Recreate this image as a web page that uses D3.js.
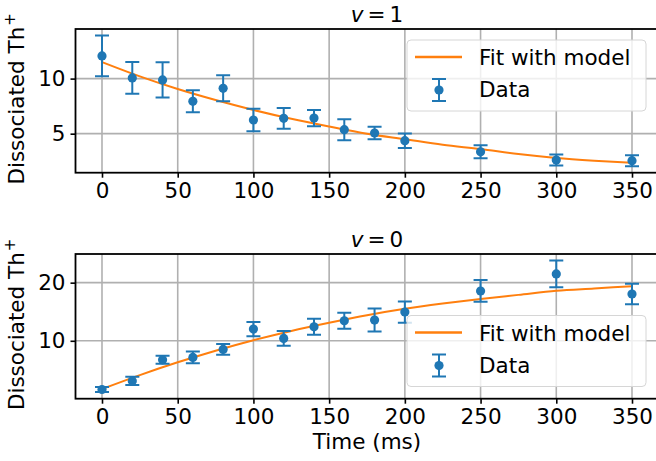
<!DOCTYPE html>
<html>
<head>
<meta charset="utf-8">
<script src="https://cdn.jsdelivr.net/npm/d3@7"></script>
<style>
  body { margin: 0; background: #fff; }
  text { font-family: "DejaVu Sans", sans-serif; fill: #000; }
</style>
</head>
<body>
<div id="svgdiv"></div>
<script>
// Step 1: data
var times = [0, 20, 40, 60, 80, 100, 120, 140, 160, 180, 200, 250, 300, 350];

// v = 1 measurements
var v1Values = [12.06, 10.06, 9.88, 7.94, 9.12, 6.24, 6.39, 6.42, 5.36, 5.06, 4.36, 3.36, 2.60, 2.55];
var v1Errors = [1.85, 1.44, 1.60, 1.00, 1.18, 1.03, 0.94, 0.74, 0.95, 0.56, 0.65, 0.60, 0.50, 0.50];

// v = 0 measurements
var v0Values = [1.62, 3.10, 6.72, 7.14, 8.52, 12.02, 10.41, 12.41, 13.45, 13.57, 14.95, 18.57, 21.50, 18.05];
var v0Errors = [0.45, 0.70, 0.69, 1.00, 0.92, 1.23, 1.26, 1.38, 1.38, 1.98, 1.83, 1.87, 2.30, 1.78];

// model curves
var fitTimes = [0, 25, 50, 75, 100, 125, 150, 175, 200, 225, 250, 275, 300, 325, 350];
var v1Fit = [11.5, 10.2, 9.05, 8.05, 7.15, 6.35, 5.65, 5.0, 4.5, 4.0, 3.6, 3.15, 2.8, 2.55, 2.35];
var v0Fit = [1.7, 4.1, 6.3, 8.3, 10.1, 11.7, 13.1, 14.4, 15.5, 16.4, 17.2, 17.9, 18.6, 19.0, 19.4];

var xTicks = [0, 50, 100, 150, 200, 250, 300, 350];
var v1Ticks = [5, 10];
var v0Ticks = [10, 20];

// Step 2: svg
var svgWidth = 656;
var svgHeight = 461;
var fontSize = 21.5;
var blue = "#1f77b4";
var orange = "#ff7f0e";

var svg = d3.select("#svgdiv")
    .append("svg")
    .attr("width", svgWidth)
    .attr("height", svgHeight);

var xScale = d3.scaleLinear()
    .domain([-17.5, 367.5])
    .range([75.5, 658.5]);

// matplotlib style 5% margins around the data
function yDomain(values, errors, fit) {
    var lo = d3.min([d3.min(values, (d, i) => d - errors[i]), d3.min(fit)]);
    var hi = d3.max([d3.max(values, (d, i) => d + errors[i]), d3.max(fit)]);
    var m = (hi - lo) * 0.05;
    return [lo - m, hi + m];
}

function drawPanel(opts) {
    var top = opts.top, bottom = opts.bottom;
    var yScale = d3.scaleLinear()
        .domain(yDomain(opts.values, opts.errors, opts.fit))
        .range([bottom, top]);

    var g = svg.append("g");

    var clipId = "clip" + opts.id;
    svg.append("clipPath").attr("id", clipId)
        .append("rect")
        .attr("x", xScale.range()[0])
        .attr("y", top)
        .attr("width", xScale.range()[1] - xScale.range()[0])
        .attr("height", bottom - top);

    // grid
    g.append("g").selectAll("line")
        .data(xTicks)
        .enter()
        .append("line")
            .attr("x1", d => xScale(d)).attr("x2", d => xScale(d))
            .attr("y1", top).attr("y2", bottom)
            .attr("stroke", "#b0b0b0")
            .attr("stroke-width", 1.6);
    g.append("g").selectAll("line")
        .data(opts.ticks)
        .enter()
        .append("line")
            .attr("x1", xScale.range()[0]).attr("x2", xScale.range()[1])
            .attr("y1", d => yScale(d)).attr("y2", d => yScale(d))
            .attr("stroke", "#b0b0b0")
            .attr("stroke-width", 1.6);

    // axes
    var bottomAxis = d3.axisBottom(xScale).tickValues(xTicks).tickSize(5).tickPadding(5);
    var leftAxis = d3.axisLeft(yScale).tickValues(opts.ticks).tickSize(5).tickPadding(5);

    var xAxis = g.append("g")
        .attr("transform", `translate(0, ${bottom})`)
        .call(bottomAxis);
    var yAxis = g.append("g")
        .attr("transform", `translate(${xScale.range()[0]}, 0)`)
        .call(leftAxis);
    [xAxis, yAxis].forEach(function(ax) {
        ax.select(".domain").remove();
        ax.selectAll("line").attr("stroke", "#000").attr("stroke-width", 1.6);
        ax.selectAll("text")
            .attr("font-size", fontSize + "px")
            .attr("font-family", "DejaVu Sans");
    });

    // fit line
    var plot = g.append("g").attr("clip-path", `url(#${clipId})`);
    var line = d3.line()
        .x((d, i) => xScale(fitTimes[i]))
        .y(d => yScale(d))
        .curve(d3.curveMonotoneX);
    plot.append("path")
        .attr("d", line(opts.fit))
        .attr("fill", "none")
        .attr("stroke", orange)
        .attr("stroke-width", 2);

    // error bars
    var bars = plot.append("g").selectAll("g")
        .data(opts.values)
        .enter()
        .append("g")
            .attr("stroke", blue)
            .attr("stroke-width", 2);
    bars.append("line")
        .attr("x1", (d, i) => xScale(times[i])).attr("x2", (d, i) => xScale(times[i]))
        .attr("y1", (d, i) => yScale(d - opts.errors[i]))
        .attr("y2", (d, i) => yScale(d + opts.errors[i]));
    bars.append("line")
        .attr("x1", (d, i) => xScale(times[i]) - 7).attr("x2", (d, i) => xScale(times[i]) + 7)
        .attr("y1", (d, i) => yScale(d - opts.errors[i]))
        .attr("y2", (d, i) => yScale(d - opts.errors[i]));
    bars.append("line")
        .attr("x1", (d, i) => xScale(times[i]) - 7).attr("x2", (d, i) => xScale(times[i]) + 7)
        .attr("y1", (d, i) => yScale(d + opts.errors[i]))
        .attr("y2", (d, i) => yScale(d + opts.errors[i]));
    plot.append("g").selectAll("circle")
        .data(opts.values)
        .enter()
        .append("circle")
            .attr("cx", (d, i) => xScale(times[i]))
            .attr("cy", d => yScale(d))
            .attr("r", 4.6)
            .attr("fill", blue);

    // spines
    g.append("rect")
        .attr("x", xScale.range()[0])
        .attr("y", top)
        .attr("width", xScale.range()[1] - xScale.range()[0])
        .attr("height", bottom - top)
        .attr("fill", "none")
        .attr("stroke", "#000")
        .attr("stroke-width", 1.8);

    // title, math style v = n
    var title = g.append("text")
        .attr("x", 377)
        .attr("y", top - 7)
        .attr("text-anchor", "middle")
        .attr("font-size", fontSize + "px");
    title.append("tspan").attr("font-style", "italic").text("v");
    title.append("tspan").attr("dx", 4).text("=");
    title.append("tspan").attr("dx", 4).text(opts.level);

    // y label
    var ylab = g.append("text")
        .attr("transform", `translate(${24}, ${(top + bottom) / 2 - 2}) rotate(-90)`)
        .attr("text-anchor", "middle")
        .attr("font-size", fontSize + "px");
    ylab.append("tspan").text("Dissociated Th");
    ylab.append("tspan").attr("dx", 1).attr("dy", -9).attr("font-size", "15px").text("+");

    // legend
    var lg = g.append("g").attr("transform", `translate(407, ${opts.legendTop})`);
    lg.append("rect")
        .attr("width", 239)
        .attr("height", 71)
        .attr("rx", 4)
        .attr("fill", "#fff")
        .attr("fill-opacity", 0.8)
        .attr("stroke", "#d6d6d6")
        .attr("stroke-width", 1);
    lg.append("line")
        .attr("x1", 8).attr("x2", 55)
        .attr("y1", 17).attr("y2", 17)
        .attr("stroke", orange).attr("stroke-width", 2.4);
    lg.append("line")
        .attr("x1", 32).attr("x2", 32).attr("y1", 39).attr("y2", 61)
        .attr("stroke", blue).attr("stroke-width", 2);
    lg.append("line")
        .attr("x1", 25).attr("x2", 39).attr("y1", 39).attr("y2", 39)
        .attr("stroke", blue).attr("stroke-width", 2);
    lg.append("line")
        .attr("x1", 25).attr("x2", 39).attr("y1", 61).attr("y2", 61)
        .attr("stroke", blue).attr("stroke-width", 2);
    lg.append("circle").attr("cx", 32).attr("cy", 50).attr("r", 4.6).attr("fill", blue);
    lg.append("text").attr("x", 72).attr("y", 25).attr("font-size", fontSize + "px").text("Fit with model");
    lg.append("text").attr("x", 72).attr("y", 57).attr("font-size", fontSize + "px").text("Data");

    return g;
}

// Step 3: the two panels
drawPanel({ id: "v1", level: 1, top: 29, bottom: 172.7, values: v1Values, errors: v1Errors,
    fit: v1Fit, ticks: v1Ticks, legendTop: 40 });
drawPanel({ id: "v0", level: 0, top: 254, bottom: 398.7, values: v0Values, errors: v0Errors,
    fit: v0Fit, ticks: v0Ticks, legendTop: 315.5 });

// x label
svg.append("text")
    .attr("x", 367)
    .attr("y", 449)
    .attr("text-anchor", "middle")
    .attr("font-size", fontSize + "px")
    .text("Time (ms)");
</script>
</body>
</html>
